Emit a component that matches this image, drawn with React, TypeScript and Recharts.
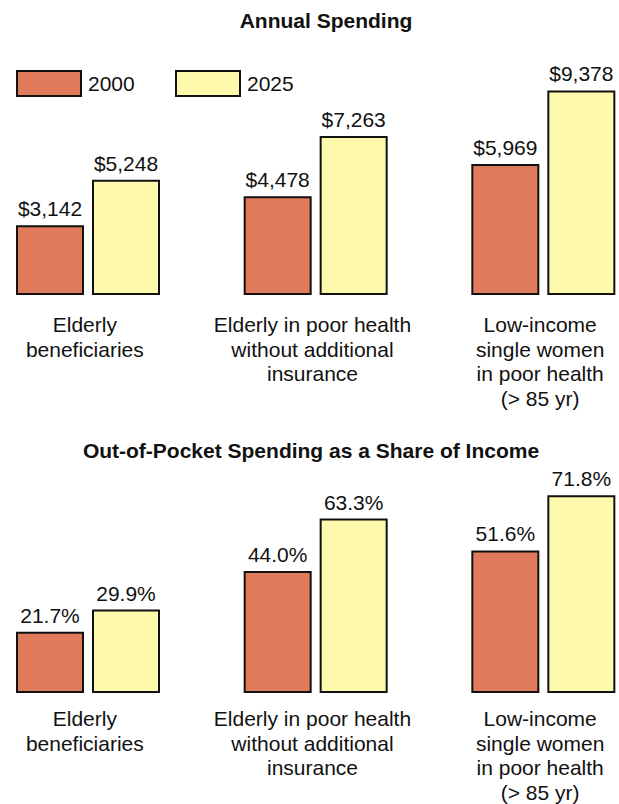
import React from 'react';
import { BarChart, Bar, XAxis, YAxis, LabelList, Legend } from 'recharts';

const categories = [
  'Elderly\nbeneficiaries',
  'Elderly in poor health\nwithout additional\ninsurance',
  'Low-income\nsingle women\nin poor health\n(> 85 yr)',
];
const years = ['2000', '2025'];
const spending2000 = [3142, 4478, 5969];
const spending2025 = [5248, 7263, 9378];
const share2000 = [21.7, 44.0, 51.6];
const share2025 = [29.9, 63.3, 71.8];

const COLORS = ['#DF7A5A', '#FFF9AE'];
const STROKE = '#111111';
const FONT = '"Liberation Sans", Arial, Helvetica, sans-serif';

const spendingData = categories.map((name, i) => ({ name, y2000: spending2000[i], y2025: spending2025[i] }));
const shareData = categories.map((name, i) => ({ name, y2000: share2000[i], y2025: share2025[i] }));

const CategoryTick = (props: any) => {
  const { x, y, payload, firstDy } = props;
  const lines = String(payload.value).split('\n');
  return (
    <text x={x - 3} y={y + firstDy} textAnchor="middle" fontSize={21} fontFamily={FONT} fill="#111">
      {lines.map((line, i) => (
        <tspan key={i} x={x - 3} dy={i === 0 ? 0 : 24.7}>
          {line}
        </tspan>
      ))}
    </text>
  );
};

const YearLegend = () => (
  <div style={{ display: 'flex', alignItems: 'center', fontFamily: FONT, fontSize: 21, color: '#111' }}>
    {years.map((year, i) => (
      <div key={year} style={{ display: 'flex', alignItems: 'center', width: 159 }}>
        <div
          style={{
            width: 66,
            height: 27,
            boxSizing: 'border-box',
            border: `2px solid ${STROKE}`,
            background: COLORS[i],
            marginRight: 6,
          }}
        />
        <span>{year}</span>
      </div>
    ))}
  </div>
);

const Title = ({ text, cx, top }: { text: string; cx: number; top: number }) => (
  <div
    style={{
      position: 'absolute',
      left: cx - 300,
      width: 600,
      top,
      textAlign: 'center',
      fontFamily: FONT,
      fontWeight: 'bold',
      fontSize: 21,
      color: '#111',
    }}
  >
    {text}
  </div>
);

const money = (v: any) => `$${Number(v).toLocaleString('en-US')}`;
const pct = (v: any) => `${Number(v).toFixed(1)}%`;

const labelStyle = { fontSize: 21, fontFamily: FONT, fill: '#111' };

const App: React.FC = () => {
  return (
    <div
      style={{
        position: 'absolute',
        left: 0,
        top: 0,
        width: 619,
        height: 804,
        overflow: 'hidden',
        background: '#fff',
      }}
    >
      <Title text="Annual Spending" cx={326} top={9} />
      <div style={{ position: 'absolute', left: -26, top: 0 }}>
        <BarChart
          width={683}
          height={420}
          data={spendingData}
          margin={{ top: 78, right: 0, bottom: 5, left: 0 }}
          barSize={66}
          barGap={10}
        >
          <XAxis
            dataKey="name"
            axisLine={false}
            tickLine={false}
            tickSize={0}
            tickMargin={0}
            height={121}
            interval={0}
            tick={<CategoryTick firstDy={38} />}
          />
          <YAxis hide domain={[0, 10000]} />
          <Legend
            verticalAlign="middle"
            layout="horizontal"
            wrapperStyle={{ top: 70, left: 42, width: 400 }}
            content={() => <YearLegend />}
          />
          <Bar dataKey="y2000" name={years[0]} fill={COLORS[0]} stroke={STROKE} strokeWidth={2} isAnimationActive={false}>
            <LabelList dataKey="y2000" position="top" offset={10} formatter={money} style={labelStyle} />
          </Bar>
          <Bar dataKey="y2025" name={years[1]} fill={COLORS[1]} stroke={STROKE} strokeWidth={2} isAnimationActive={false}>
            <LabelList dataKey="y2025" position="top" offset={10} formatter={money} style={labelStyle} />
          </Bar>
        </BarChart>
      </div>

      <Title text="Out-of-Pocket Spending as a Share of Income" cx={311} top={439} />
      <div style={{ position: 'absolute', left: -26, top: 420 }}>
        <BarChart
          width={683}
          height={384}
          data={shareData}
          margin={{ top: 54, right: 0, bottom: 5, left: 0 }}
          barSize={66}
          barGap={10}
        >
          <XAxis
            dataKey="name"
            axisLine={false}
            tickLine={false}
            tickSize={0}
            tickMargin={0}
            height={107}
            interval={0}
            tick={<CategoryTick firstDy={34} />}
          />
          <YAxis hide domain={[0, 80]} />
          <Bar dataKey="y2000" name={years[0]} fill={COLORS[0]} stroke={STROKE} strokeWidth={2} isAnimationActive={false}>
            <LabelList dataKey="y2000" position="top" offset={10} formatter={pct} style={labelStyle} />
          </Bar>
          <Bar dataKey="y2025" name={years[1]} fill={COLORS[1]} stroke={STROKE} strokeWidth={2} isAnimationActive={false}>
            <LabelList dataKey="y2025" position="top" offset={10} formatter={pct} style={labelStyle} />
          </Bar>
        </BarChart>
      </div>
    </div>
  );
};

export default App;
